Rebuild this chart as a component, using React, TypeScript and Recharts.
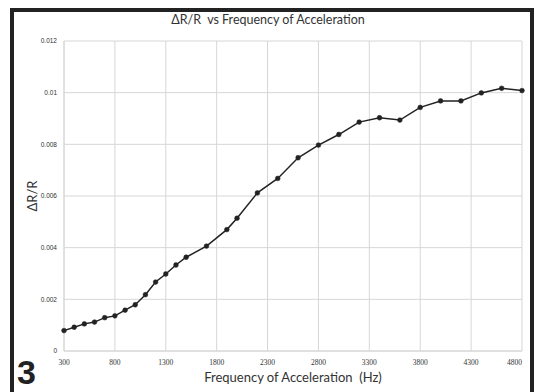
import React from "react";
import { LineChart, Line, XAxis, YAxis, CartesianGrid, Label } from "recharts";

const frequencies = [300, 400, 500, 600, 700, 800, 900, 1000, 1100, 1200, 1300, 1400, 1500, 1700, 1900, 2000, 2200, 2400, 2600, 2800, 3000, 3200, 3400, 3600, 3800, 4000, 4200, 4400, 4600, 4800];
const deltaR = [0.00079, 0.00092, 0.00105, 0.00112, 0.00129, 0.00136, 0.00158, 0.00179, 0.00218, 0.00267, 0.00298, 0.00333, 0.00363, 0.00406, 0.0047, 0.00514, 0.00612, 0.00668, 0.00748, 0.00797, 0.00838, 0.00886, 0.00903, 0.00894, 0.00943, 0.00968, 0.00968, 0.00999, 0.01017, 0.01008];
const xTicks = [300, 800, 1300, 1800, 2300, 2800, 3300, 3800, 4300, 4800];
const yTicks = [0, 0.002, 0.004, 0.006, 0.008, 0.01, 0.012];

const data = frequencies.map((f, i) => ({ f, v: deltaR[i] }));

const XTick = (props: any) => {
  const { x, y, payload } = props;
  const last = payload.value === xTicks[xTicks.length - 1];
  return (
    <text
      x={x}
      y={y + 6}
      textAnchor={last ? "end" : "middle"}
      fontSize={7.5}
      fontFamily="'Liberation Serif', serif"
      fill="#333"
    >
      {payload.value}
    </text>
  );
};

export default function App() {
  return (
    <div style={{ position: "fixed", left: 0, top: 0, width: 535, height: 392, overflow: "hidden", background: "#fff" }}>
      <div
        style={{
          position: "absolute",
          left: 10,
          top: 8,
          width: 516,
          height: 400,
          borderTop: "4px solid #222",
          borderLeft: "4px solid #222",
          borderRight: "4px solid #222",
        }}
      />
      <div
        style={{
          position: "absolute",
          left: 0,
          top: 12,
          width: 536,
          textAlign: "center",
          fontFamily: "Lato, 'Open Sans', sans-serif",
          fontSize: 12.5,
          color: "#333",
        }}
      >
        ΔR/R&nbsp; vs Frequency of Acceleration
      </div>
      <div
        style={{
          position: "absolute",
          left: 17,
          top: 355,
          fontFamily: "'Liberation Sans', Arial, sans-serif",
          fontWeight: 900,
          fontSize: 34,
          lineHeight: "34px",
          color: "#222",
        }}
      >
        3
      </div>
      <div style={{ position: "absolute", left: 0, top: 0 }}>
        <LineChart width={535} height={392} data={data} margin={{ top: 41, right: 13, left: 0, bottom: 0 }}>
          <CartesianGrid stroke="#d6d6d6" strokeWidth={1} verticalValues={xTicks} horizontalValues={yTicks} />
          <XAxis
            dataKey="f"
            type="number"
            domain={[300, 4800]}
            ticks={xTicks}
            height={41}
            tickLine={false}
            axisLine={{ stroke: "#d6d6d6" }}
            tick={<XTick />}
            interval={0}
          >
            <Label
              value={"Frequency of Acceleration\u00a0\u00a0(Hz)"}
              position="insideBottom"
              offset={10}
              style={{ fontFamily: "Lato, 'Open Sans', sans-serif", fontSize: 13, fill: "#333" }}
            />
          </XAxis>
          <YAxis
            type="number"
            domain={[0, 0.012]}
            ticks={yTicks}
            width={64}
            tickLine={false}
            tickSize={0}
            tickMargin={7}
            axisLine={{ stroke: "#d6d6d6" }}
            tick={{ fontSize: 6.5, fill: "#333", fontFamily: "'Liberation Sans', Arial, sans-serif" }}
            interval={0}
          >
            <Label
              value="ΔR/R"
              angle={-90}
              position="insideLeft"
              offset={32}
              style={{ fontFamily: "Lato, 'Open Sans', sans-serif", fontSize: 13, fill: "#333", textAnchor: "middle" }}
            />
          </YAxis>
          <Line
            type="linear"
            dataKey="v"
            stroke="#222"
            strokeWidth={1.5}
            dot={{ r: 2.4, fill: "#222", stroke: "#222", strokeWidth: 0.5 }}
            isAnimationActive={false}
          />
        </LineChart>
      </div>
    </div>
  );
}
